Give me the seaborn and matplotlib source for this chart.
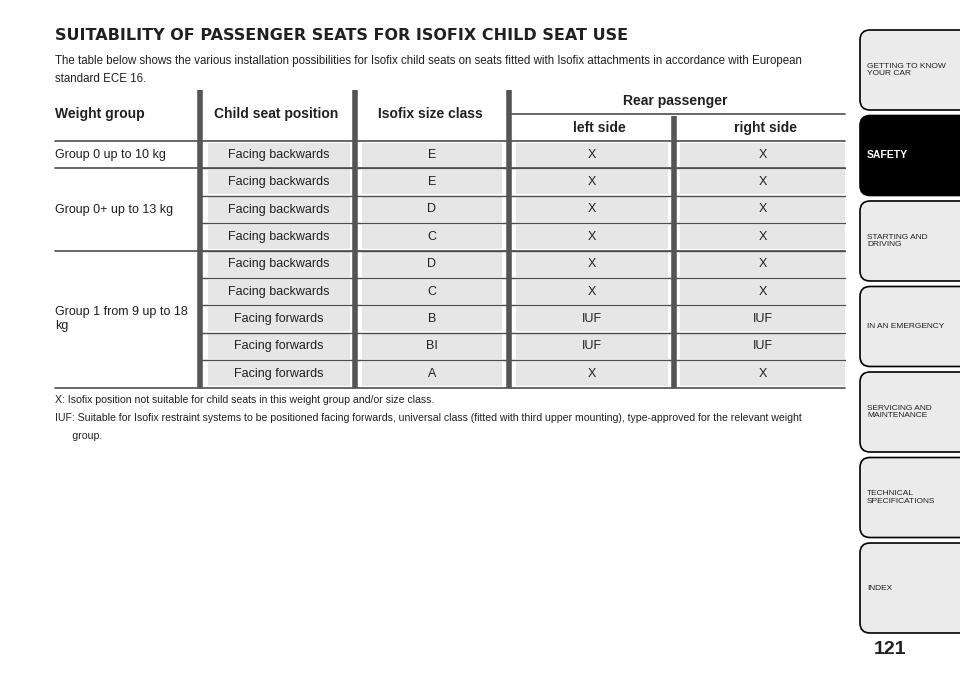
"""
Isofix child seat suitability table page, redrawn with matplotlib/seaborn.
"""

import matplotlib.pyplot as plt
import seaborn as sns
from matplotlib.patches import FancyBboxPatch, Rectangle

TITLE = "SUITABILITY OF PASSENGER SEATS FOR ISOFIX CHILD SEAT USE"
INTRO = [
    "The table below shows the various installation possibilities for Isofix child seats on seats fitted with Isofix attachments in accordance with European",
    "standard ECE 16.",
]
HEADERS = ["Weight group", "Child seat position", "Isofix size class"]
REAR_HEADER = "Rear passenger"
SIDES = ["left side", "right side"]

groups = ["Group 0 up to 10 kg", "Group 0+ up to 13 kg", "Group 1 from 9 up to 18\nkg"]
group_rows = [1, 3, 5]
positions = ["Facing backwards"] * 6 + ["Facing forwards"] * 3
size_class = ["E", "E", "D", "C", "D", "C", "B", "BI", "A"]
left_side = ["X", "X", "X", "X", "X", "X", "IUF", "IUF", "X"]
right_side = ["X", "X", "X", "X", "X", "X", "IUF", "IUF", "X"]

NOTES = [
    "X: Isofix position not suitable for child seats in this weight group and/or size class.",
    "IUF: Suitable for Isofix restraint systems to be positioned facing forwards, universal class (fitted with third upper mounting), type-approved for the relevant weight",
    "      group.",
]
TABS = ["GETTING TO KNOW\nYOUR CAR", "SAFETY", "STARTING AND\nDRIVING", "IN AN EMERGENCY",
        "SERVICING AND\nMAINTENANCE", "TECHNICAL\nSPECIFICATIONS", "INDEX"]
ACTIVE_TAB = "SAFETY"
PAGE = "121"

sns.set_theme(style="white")
plt.rcParams["font.family"] = ["Liberation Sans", "DejaVu Sans"]

fig = plt.figure(figsize=(9.6, 6.86), dpi=100)
ax = fig.add_axes([0, 0, 1, 1])
ax.set_xlim(0, 960)
ax.set_ylim(686, 0)
ax.axis("off")

TXT = "#231f20"
LINE = "#4d4d4d"
SHADE = "#e6e6e6"

ax.text(55, 35, TITLE, fontsize=11.5, fontweight="heavy", color=TXT, va="center",
        fontfamily="DejaVu Sans")
for i, line in enumerate(INTRO):
    ax.text(55, 61 + i * 18, line, fontsize=8.3, color=TXT, va="center")

# table geometry
top, head_bot, row_h = 90, 141, 27.4
n = len(positions)
bottom = head_bot + n * row_h
cols = [(208, 350), (362, 502), (516, 668), (680, 845)]
seps = [200, 355, 509]
centers = [(a + b) / 2 for a, b in cols]

ax.text(55, 114, HEADERS[0], fontsize=10, fontweight="bold", color=TXT, va="center")
ax.text(centers[0] - 3, 114, HEADERS[1], fontsize=10, fontweight="bold", color=TXT,
        va="center", ha="center")
ax.text(centers[1] - 2, 114, HEADERS[2], fontsize=10, fontweight="bold", color=TXT,
        va="center", ha="center")
ax.text(675, 101, REAR_HEADER, fontsize=10, fontweight="bold", color=TXT, va="center", ha="center")
ax.plot([512, 845], [114, 114], color=LINE, lw=1.2)
ax.text(centers[2] + 7, 128, SIDES[0], fontsize=10, fontweight="bold", color=TXT, va="center", ha="center")
ax.text(centers[3] + 3, 128, SIDES[1], fontsize=10, fontweight="bold", color=TXT, va="center", ha="center")
ax.plot([55, 845], [head_bot, head_bot], color=LINE, lw=1.2)

body = [positions, size_class, left_side, right_side]
for r in range(n):
    y0 = head_bot + r * row_h
    for c, (a, b) in enumerate(cols):
        ax.add_patch(Rectangle((a, y0 + 1.5), b - a, row_h - 3, color=SHADE, lw=0))
        ax.text((a + b) / 2, y0 + row_h / 2, body[c][r], fontsize=9, color=TXT,
                ha="center", va="center")
    if r > 0:
        ax.plot([200, 845], [y0, y0], color=LINE, lw=1)

y = head_bot
for g, k in zip(groups, group_rows):
    mid = y + k * row_h / 2
    ax.text(55, mid, g, fontsize=9, color=TXT, va="center", linespacing=1.3)
    y += k * row_h
    ax.plot([55, 845], [y, y], color=LINE, lw=1.2)

for x in seps:
    ax.plot([x, x], [top, bottom], color="#555555", lw=4, solid_capstyle="butt")
ax.plot([674, 674], [116, bottom], color="#555555", lw=4, solid_capstyle="butt")

for i, note in enumerate(NOTES):
    ax.text(55, 400 + i * 18, note, fontsize=7.6, color=TXT, va="center")

# side tabs
tab_top, tab_h, gap = 30, 80, 5.5
for i, t in enumerate(TABS):
    y0 = tab_top + i * (tab_h + gap)
    h = tab_h + (10 if i == len(TABS) - 1 else 0)
    active = t == ACTIVE_TAB
    ax.add_patch(FancyBboxPatch((860, y0), 120, h, boxstyle="round,pad=0,rounding_size=10",
                                fc="black" if active else "#ebebeb", ec="black", lw=1.2))
    ax.text(867, y0 + h / 2, t, fontsize=6 if not active else 7.5,
            fontweight="bold" if active else "normal",
            color="white" if active else TXT, va="center", linespacing=1.1)

ax.text(890, 649, PAGE, fontsize=14, fontweight="bold", color=TXT, ha="center", va="center")

fig.savefig("out.png", dpi=100)
